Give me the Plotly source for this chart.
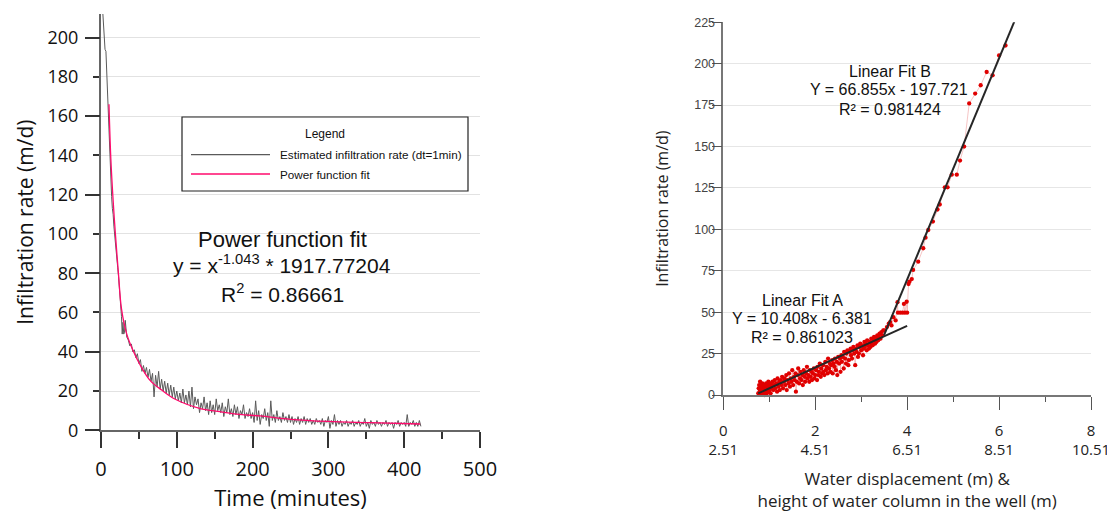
import plotly.graph_objects as go

# page has an 8px body margin, so the figure is drawn 8px in and 8px down
OFF = 8
W, H = 1115 - OFF, 515 - OFF

# ---------------- Left panel data ----------------
time_min = [2, 5.3, 6.5, 11.9, 13, 14, 15, 16, 17, 18, 19, 20, 21, 22, 23, 24, 25, 26, 27, 28, 29, 30, 31, 32, 33, 34,
            36, 38, 40, 42, 44, 46, 48, 50,
            52, 54, 56, 58, 60, 62, 64, 66, 68, 70, 72, 74, 76, 78, 80, 82, 84, 86, 88, 90, 92, 94, 96, 98, 100,
            102, 104, 106, 108, 110, 112, 114, 116, 118, 120, 122, 124, 126, 128, 130, 132, 134, 136, 138, 140,
            142, 144, 146, 148, 150, 152, 154, 156, 158, 160, 162, 164, 166, 168, 170, 172, 174, 176, 178, 180,
            182, 184, 186, 188, 190, 192, 194, 196, 198, 200, 202, 204, 206, 208, 210, 212, 214, 216, 218, 220,
            222, 224, 226, 228, 230, 232, 234, 236, 238, 240, 242, 244, 246, 248, 250, 252, 254, 256, 258, 260,
            262, 264, 266, 268, 270, 272, 274, 276, 278, 280, 282, 284, 286, 288, 290, 292, 294, 296, 298, 300,
            302, 304, 306, 308, 310, 312, 314, 316, 318, 320, 322, 324, 326, 328, 330, 332, 334, 336, 338, 340,
            342, 344, 346, 348, 350, 352, 354, 356, 358, 360, 362, 364, 366, 368, 370, 372, 374, 376, 378, 380,
            382, 384, 386, 388, 390, 392, 394, 396, 398, 400, 402, 404, 406, 408, 410, 412, 414, 416, 418, 420, 422]
rate_md = [215, 194, 193, 132, 124, 119, 113, 110, 104, 99, 95, 90, 86, 83, 79, 74, 69, 64, 58, 49, 55, 49, 50, 56, 49, 47.5,
           46, 43, 44, 40, 41, 37, 39, 34,
           36, 30, 33, 29, 32, 27, 31, 25, 29, 17, 28, 22, 30, 21, 26, 20, 25, 19, 24, 18, 23, 17, 22, 16, 20,
           15, 19, 14, 21, 14, 18, 13, 20, 12, 22, 11, 17, 13, 16, 9, 14, 11, 17, 10, 14,
           8, 15, 9, 13, 8, 16, 10, 13, 9, 14, 7, 12, 9, 16, 8, 11, 7, 13, 8, 12,
           6, 10, 8, 13, 6, 9, 7, 11, 6, 9, 4, 15, 5, 10, 3, 8, 6, 11, 5, 9,
           2, 15, 5, 8, 4, 10, 5, 7, 4, 9, 5, 7, 4, 8, 4, 7, 3, 6, 4, 7,
           3, 6, 4, 7, 3, 6, 4, 6, 3, 5, 3, 6, 4, 5, 3, 6, 2, 5, 4, 7,
           1, 5, 3, 8, 2, 5, 3, 5, 2, 4, 3, 5, 2, 4, 3, 5, 2, 4, 3, 5,
           2, 4, 3, 6, 2, 4, 1, 5, 3, 4, 2, 5, 3, 4, 2, 4, 3, 5, 2, 4,
           3, 4, 1, 4, 3, 5, 2, 4, 3, 4, 2, 8, 2, 4, 3, 5, 2, 4, 2, 5, 2]
fit_t = [10.5, 13, 16, 19, 23, 27, 34, 43, 52, 65, 80, 98, 130, 157, 183, 210, 250, 300, 355, 421]
fit_rate = [166, 138, 117, 100, 80, 62, 49, 40, 33, 25.3, 20.5, 15.8, 11.2, 9.5, 8.1, 7.3, 5.6, 4.5, 3.9, 3.2]

# ---------------- Right panel data ----------------
disp_m = [0.76, 0.77, 0.78, 0.79, 0.80, 0.81, 0.82, 0.83, 0.84, 0.85, 0.86, 0.87, 0.88, 0.89, 0.90, 0.91, 0.92, 0.93,
          0.94, 0.95, 0.96, 0.97, 0.98, 0.99, 1.00, 1.01, 1.02, 1.03, 1.04, 1.05,
          1.07, 1.09, 1.10, 1.12, 1.13, 1.15, 1.17, 1.18, 1.20, 1.22, 1.23, 1.25, 1.27, 1.28, 1.30, 1.32, 1.33,
          1.35, 1.37, 1.38, 1.40, 1.42, 1.43, 1.45, 1.47, 1.48, 1.50,
          1.52, 1.54, 1.55, 1.57, 1.58, 1.60, 1.62, 1.63, 1.65, 1.67, 1.68, 1.70, 1.72, 1.73, 1.75, 1.77, 1.78,
          1.80, 1.82, 1.83, 1.85, 1.87, 1.88, 1.90, 1.92, 1.93, 1.95, 1.97, 1.98, 2.00,
          2.02, 2.04, 2.05, 2.07, 2.08, 2.10, 2.12, 2.13, 2.15, 2.17, 2.18, 2.20, 2.22, 2.23, 2.25, 2.27, 2.28,
          2.30, 2.32, 2.33, 2.35, 2.37, 2.38, 2.40, 2.42, 2.43, 2.45, 2.47, 2.48, 2.50,
          2.52, 2.54, 2.55, 2.57, 2.58, 2.60, 2.62, 2.63, 2.65, 2.67, 2.68, 2.70, 2.72, 2.73, 2.75, 2.77, 2.78,
          2.80, 2.82, 2.83, 2.85, 2.87, 2.88, 2.90, 2.92, 2.93, 2.95, 2.97, 2.98, 3.00,
          3.02, 3.04, 3.05, 3.07, 3.08, 3.10, 3.12, 3.13, 3.15, 3.17, 3.18, 3.20, 3.22, 3.23, 3.25, 3.27, 3.28,
          3.30, 3.32, 3.33, 3.35, 3.37, 3.38, 3.40, 3.42, 3.44, 3.46, 3.48,
          3.50, 3.56, 3.60, 3.63, 3.66, 3.70, 3.75, 3.79, 3.80, 3.85, 3.90, 3.93, 3.95, 3.99, 4.00,
          4.03, 4.05, 4.10, 4.13, 4.24, 4.35, 4.40, 4.46, 4.56, 4.66, 4.71, 4.82, 4.88, 4.97, 5.08, 5.15,
          5.24, 5.35, 5.48, 5.60, 5.73, 5.86, 6.00, 6.14]
rate_disp = [1, 4, 6, 2, 8, 3, 0.5, 5, 2, 7, 1, 4, 3, 6, 0, 5, 2, 7,
             3, 1, 6, 4, 8, 2, 5, 3, 7, 1, 6, 4,
             8, 3, 6, 9, 4, 7, 2, 10, 5, 8, 3, 9, 6, 11, 4, 8, 10,
             6, 12, 3, 9, 7, 13, 5, 10, 8, 15,
             6, 11, 9, 13, 2, 8, 12, 16, 7, 10, 14, 9, 12, 6, 15, 11, 8,
             13, 17, 10, 12, 8, 15, 11, 14, 9, 13, 16, 10, 12,
             15, 9, 17, 12, 14, 19, 11, 16, 13, 18, 14, 12, 20, 15, 17, 13, 22,
             16, 19, 14, 18, 21, 13, 19, 17, 22, 15, 20, 12, 23,
             19, 22, 14, 24, 20, 23, 16, 26, 22, 19, 25, 27, 18, 21, 26, 28, 24,
             22, 27, 29, 25, 18, 28, 26, 30, 23, 25, 29, 31, 27,
             30, 24, 28, 32, 29, 31, 27, 33, 30, 28, 32, 29, 34, 31, 30, 33, 35,
             31, 34, 32, 36, 33, 35, 37, 34, 38, 36, 39,
             39, 41, 43, 44, 42, 47, 45, 56, 49.7, 49.7, 49.7, 55, 49.7, 56.3, 49.7,
             67, 68.4, 70, 75.5, 80.5, 88.6, 95, 99.6, 104.7, 112, 115, 125.4, 125.4, 133, 133, 141.5,
             150, 176, 182, 187, 195, 193, 205, 211]

fitA_x = [0.76, 4.0]
fitA_y = [1.0, 41.7]
fitB_x = [3.5, 6.34]
fitB_y = [36.3, 226.0]

disp_ticks = [0, 2, 4, 6, 8]
height_ticks = ["2.51", "4.51", "6.51", "8.51", "10.51"]


def px(x):
    return (x - OFF) / W


def py(y):
    return 1 - (y - OFF) / H


OPEN = "Open Sans, Segoe UI, sans-serif"
ARIAL = "Liberation Sans, Arial, sans-serif"
PINK = "#FF0A6C"
GRAY = "#5a5a5a"

fig = go.Figure()

fig.add_trace(go.Scatter(x=time_min, y=rate_md, mode="lines", name="Estimated infiltration rate (dt=1min)",
                         line=dict(color=GRAY, width=1), xaxis="x", yaxis="y", showlegend=False))
fig.add_trace(go.Scatter(x=fit_t, y=fit_rate, mode="lines", name="Power function fit",
                         line=dict(color=PINK, width=1.3, shape="spline"), xaxis="x", yaxis="y", showlegend=False))
# helper trace so the overlaying tick axis is drawn
fig.add_trace(go.Scatter(x=[None], y=[None], xaxis="x", yaxis="y3", showlegend=False, hoverinfo="skip"))

fig.add_trace(go.Scatter(x=disp_m, y=rate_disp, mode="lines+markers", name="Measured",
                         line=dict(color="rgba(225,70,70,0.45)", width=0.7),
                         marker=dict(color="#E00000", size=4.3), cliponaxis=False,
                         xaxis="x2", yaxis="y2", showlegend=False))
fig.add_trace(go.Scatter(x=fitA_x, y=fitA_y, mode="lines", name="Linear Fit A",
                         line=dict(color="#262626", width=2), xaxis="x2", yaxis="y2", showlegend=False))
fig.add_trace(go.Scatter(x=fitB_x, y=fitB_y, mode="lines", name="Linear Fit B",
                         line=dict(color="#262626", width=2), xaxis="x2", yaxis="y2", showlegend=False))

fig.update_layout(
    width=W, height=H,
    margin=dict(l=0, r=0, t=0, b=0),
    paper_bgcolor="white", plot_bgcolor="white",
    showlegend=False,
    xaxis=dict(domain=[px(101), px(480)], anchor="y", range=[0, 500], dtick=100, tick0=0,
               ticks="outside", ticklen=16, tickwidth=1.5, tickcolor="#333",
               minor=dict(dtick=50, ticks="outside", ticklen=7, tickwidth=1.5, tickcolor="#333", showgrid=False),
               showline=True, linecolor="#666", linewidth=2, showgrid=False, zeroline=False,
               tickfont=dict(family=OPEN, size=20, color="#111"), ticklabelstandoff=4,
               title=dict(text="Time (minutes)", font=dict(family=OPEN, size=22, color="#111"), standoff=6),
               automargin=False),
    yaxis=dict(domain=[py(430.3), py(14)], anchor="x", range=[0, 212], dtick=20, tick0=0,
               ticks="outside", ticklen=6, tickwidth=1.5, tickcolor="#333",
               showline=True, linecolor="#666", linewidth=2, showgrid=True, gridcolor="#e2e2e2", gridwidth=1,
               zeroline=False, tickfont=dict(family=OPEN, size=18, color="#111"), ticklabelstandoff=11,
               title=dict(text="Infiltration rate (m/d)", font=dict(family=OPEN, size=21, color="#111"), standoff=8),
               automargin=False),
    yaxis3=dict(overlaying="y", anchor="x", side="left", range=[0, 212], tickvals=[0, 40, 80, 120, 160, 200],
                ticks="outside", ticklen=15, tickwidth=1.5, tickcolor="#333", showticklabels=False,
                showgrid=False, showline=False, zeroline=False, automargin=False),
    xaxis2=dict(domain=[px(723.3), px(1091)], anchor="y2", range=[0, 8],
                tickvals=disp_ticks, ticktext=[f"{d}<br>{h}" for d, h in zip(disp_ticks, height_ticks)],
                ticks="outside", ticklen=13, tickwidth=1.2, tickcolor="#555",
                minor=dict(dtick=1, ticks="outside", ticklen=5, tickwidth=1.2, tickcolor="#555", showgrid=False),
                showline=True, linecolor="#777", linewidth=1.5, showgrid=False, zeroline=False,
                tickfont=dict(family=OPEN, size=15, color="#222"), ticklabelstandoff=8,
                title=dict(text="Water displacement (m) &<br>height of water column in the well (m)",
                           font=dict(family=OPEN, size=17, color="#222"), standoff=15),
                automargin=False),
    yaxis2=dict(domain=[py(395), py(22.3)], anchor="x2", range=[0, 225], dtick=25, tick0=0,
                ticks="outside", ticklen=10, tickwidth=1.2, tickcolor="#555",
                showline=True, linecolor="#777", linewidth=1.5, showgrid=True, gridcolor="#e6e6e6",
                zeroline=False, tickfont=dict(family=ARIAL, size=12.5, color="#444"), ticklabelstandoff=-6,
                title=dict(text="Infiltration rate (m/d)", font=dict(family=OPEN, size=16, color="#222"), standoff=22),
                automargin=False),
)

annotations = [
    dict(text="Power function fit", x=px(282.5), y=py(239), size=22),
    dict(text="y = x<sup>-1.043</sup> * 1917.77204", x=px(282), y=py(264), size=21),
    dict(text="R<sup>2</sup> = 0.86661", x=px(282), y=py(293), size=21),
    dict(text="Linear Fit B", x=px(890), y=py(72), size=16),
    dict(text="Y = 66.855x - 197.721", x=px(889), y=py(90), size=16),
    dict(text="R² = 0.981424", x=px(890), y=py(109), size=16),
    dict(text="Linear Fit A", x=px(802), y=py(300), size=16),
    dict(text="Y = 10.408x - 6.381", x=px(802), y=py(318), size=16),
    dict(text="R² = 0.861023", x=px(802), y=py(337), size=16),
]
for a in annotations:
    fig.add_annotation(text=a["text"], x=a["x"], y=a["y"], xref="paper", yref="paper",
                       xanchor="center", yanchor="middle", showarrow=False,
                       font=dict(family=ARIAL, size=a["size"], color="#111"))

# Legend box (drawn to match the original layout)
fig.add_shape(type="rect", xref="paper", yref="paper", x0=px(182), x1=px(468), y0=py(191), y1=py(117),
              line=dict(color="#222", width=1.2), fillcolor="white", layer="above")
fig.add_shape(type="line", xref="paper", yref="paper", x0=px(191), x1=px(270), y0=py(154.7), y1=py(154.7),
              line=dict(color=GRAY, width=1.3), layer="above")
fig.add_shape(type="line", xref="paper", yref="paper", x0=px(191), x1=px(270), y0=py(174), y1=py(174),
              line=dict(color=PINK, width=1.3), layer="above")
fig.add_annotation(text="Legend", x=px(325), y=py(134), xref="paper", yref="paper", showarrow=False,
                   xanchor="center", yanchor="middle", font=dict(family=ARIAL, size=12, color="#111"))
fig.add_annotation(text="Estimated infiltration rate (dt=1min)", x=px(278), y=py(155), xref="paper", yref="paper",
                   showarrow=False, xanchor="left", yanchor="middle", font=dict(family=ARIAL, size=11.7, color="#111"))
fig.add_annotation(text="Power function fit", x=px(278), y=py(174), xref="paper", yref="paper",
                   showarrow=False, xanchor="left", yanchor="middle", font=dict(family=ARIAL, size=11.7, color="#111"))

fig.write_html("out.html")
